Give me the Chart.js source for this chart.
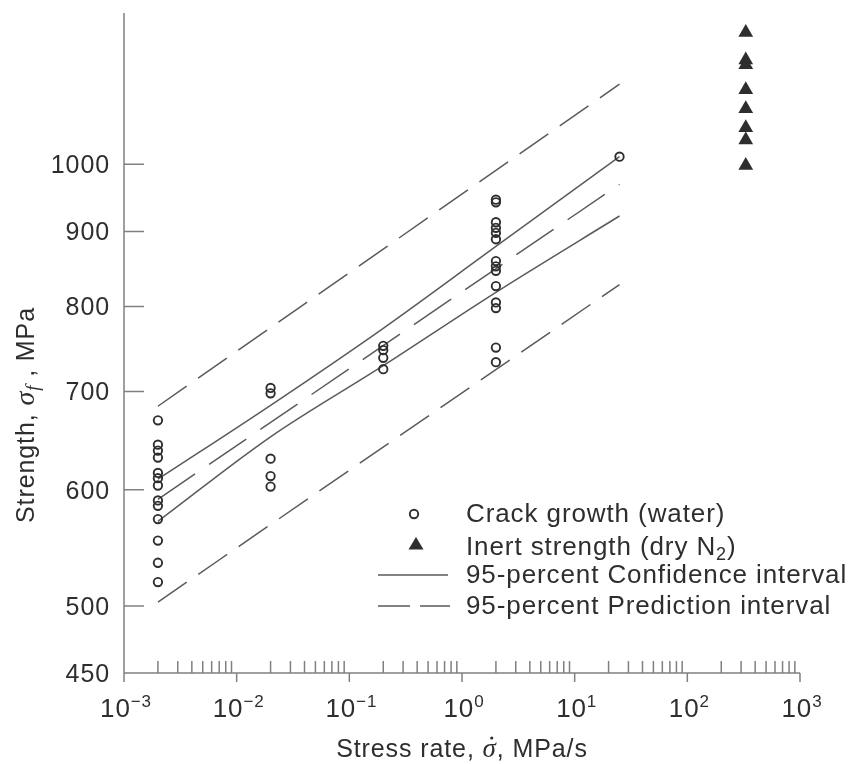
<!DOCTYPE html>
<html lang="en">
<head>
<meta charset="UTF-8">
<title>Strength vs stress rate</title>
<script src="https://cdn.jsdelivr.net/npm/chart.js"></script>
<style>
    html, body {
        margin: 0;
        padding: 0;
        background-color: #ffffff;
    }
    #chart {
        display: block;
    }
</style>
</head>
<body>
<canvas id="chart" width="855" height="764"></canvas>
<script>
    // crack growth specimens tested in water (stress rate MPa/s, strength MPa)
    const waterRate = [
        0.002, 0.002, 0.002, 0.002, 0.002, 0.002, 0.002, 0.002, 0.002, 0.002, 0.002, 0.002, 0.002,
        0.02, 0.02, 0.02, 0.02, 0.02,
        0.2, 0.2, 0.2, 0.2,
        2, 2, 2, 2, 2, 2, 2, 2, 2, 2, 2, 2, 2, 2,
        25
    ];
    const waterStrength = [
        669, 644, 638, 631, 616, 611, 604, 590, 585, 573, 554, 535, 519,
        704, 698, 630, 613, 603,
        752, 747, 738, 725,
        946, 942, 913, 905, 898, 889, 859, 852, 846, 826, 805, 798, 750, 733,
        1012
    ];

    // inert strength in dry nitrogen
    const inertRate = 330;
    const inertStrength = [1230, 1178, 1169, 1124, 1091, 1059, 1039, 998];

    // 95-percent confidence band
    const bandRate = [0.002, 0.02, 0.2, 2, 25];
    const confUpper = [610, 685, 773, 879, 1012];
    const confLower = [571, 652, 729, 818, 922];

    // fit line and 95-percent prediction band
    const fitRate = [0.002, 25];
    const fitLine = [591, 969];
    const predUpper = [684, 1134];
    const predLower = [503, 828];

    // axes
    const yTicks = [450, 500, 600, 700, 800, 900, 1000];
    const xDecades = [-3, -2, -1, 0, 1, 2, 3];

    const SANS = "'Liberation Sans', Arial, sans-serif";
    const SERIF = "'Liberation Serif', 'Times New Roman', serif";
    const INK = '#2e2e2e';
    const AXIS = '#808080';
    const LINE = '#5a5a5a';

    const pairs = (xs, ys) => ys.map((v, i) => ({ x: Array.isArray(xs) ? xs[i] : xs, y: v }));

    function lineSet(label, xs, ys, dash) {
        return {
            label: label,
            data: pairs(xs, ys),
            showLine: true,
            borderColor: LINE,
            borderWidth: 1.5,
            borderDash: dash,
            pointRadius: 0,
            cubicInterpolationMode: 'monotone',
            fill: false
        };
    }

    // draws a run of text pieces, each with its own font and baseline shift
    function drawPieces(ctx, pieces, startX, baseY) {
        let cx = startX;
        const spots = [];
        pieces.forEach(p => {
            ctx.font = p.font;
            ctx.fillText(p.text, cx, baseY + (p.dy || 0));
            const w = ctx.measureText(p.text).width;
            spots.push({ x: cx, w: w });
            cx += w;
        });
        return spots;
    }

    function piecesWidth(ctx, pieces) {
        let w = 0;
        pieces.forEach(p => {
            ctx.font = p.font;
            w += ctx.measureText(p.text).width;
        });
        return w;
    }

    const axesAndLabels = {
        id: 'axesAndLabels',
        afterDraw(chart) {
            const { ctx, chartArea: a, scales: { x, y } } = chart;
            ctx.save();
            ctx.letterSpacing = '0.9px';

            // axis lines
            ctx.strokeStyle = AXIS;
            ctx.lineWidth = 1.5;
            ctx.beginPath();
            ctx.moveTo(a.left, a.top);
            ctx.lineTo(a.left, a.bottom);
            ctx.moveTo(a.left, a.bottom);
            ctx.lineTo(a.right, a.bottom);
            ctx.stroke();

            // y ticks point into the plot
            ctx.beginPath();
            yTicks.forEach(v => {
                if (v === 450) return;
                const py = y.getPixelForValue(v);
                ctx.moveTo(a.left, py);
                ctx.lineTo(a.left + 20, py);
            });
            // x minor ticks go up, decade ticks go down
            xDecades.forEach(n => {
                const px = x.getPixelForValue(Math.pow(10, n));
                ctx.moveTo(px, a.bottom);
                ctx.lineTo(px, a.bottom + 9);
                if (n === 3) return;
                for (let k = 2; k <= 9; k++) {
                    const mx = x.getPixelForValue(k * Math.pow(10, n));
                    ctx.moveTo(mx, a.bottom);
                    ctx.lineTo(mx, a.bottom - 12);
                }
            });
            ctx.stroke();

            ctx.fillStyle = INK;

            // y tick labels
            ctx.font = '25px ' + SANS;
            ctx.textAlign = 'right';
            ctx.textBaseline = 'middle';
            yTicks.forEach(v => {
                ctx.fillText(String(v), a.left - 14, y.getPixelForValue(v) + 2);
            });

            // x tick labels, 10 with a raised exponent
            ctx.textAlign = 'left';
            ctx.textBaseline = 'alphabetic';
            xDecades.forEach(n => {
                const exp = n < 0 ? '\u2212' + Math.abs(n) : String(n);
                const pieces = [
                    { text: '10', font: '26px ' + SANS },
                    { text: exp, font: '17px ' + SANS, dy: -10 }
                ];
                const w = piecesWidth(ctx, pieces);
                drawPieces(ctx, pieces, x.getPixelForValue(Math.pow(10, n)) - w / 2 + 2, a.bottom + 44);
            });

            // x axis title, sigma with a dot over it
            const xTitle = [
                { text: 'Stress rate, ', font: '25px ' + SANS },
                { text: '\u03c3', font: 'italic 27px ' + SERIF },
                { text: ', MPa/s', font: '25px ' + SANS }
            ];
            const xw = piecesWidth(ctx, xTitle);
            const xs = drawPieces(ctx, xTitle, (a.left + a.right) / 2 - xw / 2, 757);
            ctx.beginPath();
            ctx.arc(xs[1].x + xs[1].w / 2 + 2, 738, 1.6, 0, Math.PI * 2);
            ctx.fill();

            // y axis title, rotated
            const yTitle = [
                { text: 'Strength, ', font: '25px ' + SANS },
                { text: '\u03c3', font: 'italic 28px ' + SERIF },
                { text: 'f', font: 'italic 19px ' + SERIF, dy: 5 },
                { text: ' , MPa', font: '25px ' + SANS }
            ];
            ctx.save();
            ctx.translate(34, 415);
            ctx.rotate(-Math.PI / 2);
            const yw = piecesWidth(ctx, yTitle);
            drawPieces(ctx, yTitle, -yw / 2, 0);
            ctx.restore();

            // legend
            const lx = 466, symX = 414, rowY = [514, 545, 575, 606];
            const ds = chart.data.datasets;
            const LF = '26px ' + SANS;
            ctx.textBaseline = 'middle';

            ctx.strokeStyle = INK;
            ctx.lineWidth = 1.9;
            ctx.beginPath();
            ctx.arc(symX, rowY[0], 4.2, 0, Math.PI * 2);
            ctx.stroke();
            ctx.font = LF;
            ctx.fillText(ds[0].label, lx, rowY[0] + 1);

            ctx.beginPath();
            ctx.moveTo(symX + 2, rowY[1] - 8);
            ctx.lineTo(symX + 9.5, rowY[1] + 4.5);
            ctx.lineTo(symX - 5.5, rowY[1] + 4.5);
            ctx.closePath();
            ctx.fill();
            ctx.textBaseline = 'alphabetic';
            drawPieces(ctx, [
                { text: 'Inert strength (dry N', font: LF },
                { text: '2', font: '18px ' + SANS, dy: 5 },
                { text: ')', font: LF }
            ], lx, rowY[1] + 10);
            ctx.textBaseline = 'middle';

            ctx.strokeStyle = LINE;
            ctx.lineWidth = 1.5;
            ctx.beginPath();
            ctx.moveTo(378, rowY[2]);
            ctx.lineTo(448, rowY[2]);
            ctx.stroke();
            ctx.font = LF;
            ctx.fillText('95-percent Confidence interval', lx, rowY[2] + 1);

            ctx.setLineDash([32, 10]);
            ctx.beginPath();
            ctx.moveTo(378, rowY[3]);
            ctx.lineTo(450, rowY[3]);
            ctx.stroke();
            ctx.setLineDash([]);
            ctx.fillText('95-percent Prediction interval', lx, rowY[3] + 1);

            ctx.restore();
        }
    };

    new Chart(document.getElementById('chart').getContext('2d'), {
        type: 'scatter',
        data: {
            datasets: [
                {
                    label: 'Crack growth (water)',
                    data: pairs(waterRate, waterStrength),
                    pointStyle: 'circle',
                    pointRadius: 4.2,
                    borderWidth: 1.9,
                    borderColor: INK,
                    backgroundColor: 'rgba(255,255,255,0)'
                },
                {
                    label: 'Inert strength (dry N2)',
                    data: pairs(inertRate, inertStrength),
                    pointStyle: 'triangle',
                    pointRadius: 8.5,
                    borderWidth: 0,
                    backgroundColor: INK
                },
                lineSet('95-percent Confidence interval', bandRate, confUpper, []),
                lineSet('95-percent Confidence interval (lower)', bandRate, confLower, []),
                lineSet('Fit', fitRate, fitLine, [45, 17]),
                lineSet('95-percent Prediction interval', fitRate, predUpper, [35, 14]),
                lineSet('95-percent Prediction interval (lower)', fitRate, predLower, [35, 14])
            ]
        },
        options: {
            responsive: false,
            animation: false,
            devicePixelRatio: 1,
            layout: {
                padding: { left: 124, right: 55, top: 13, bottom: 91 }
            },
            plugins: {
                legend: { display: false },
                tooltip: { enabled: false }
            },
            scales: {
                x: { type: 'logarithmic', min: 0.001, max: 1000, display: false },
                y: { type: 'logarithmic', min: 450, max: 1268, display: false }
            }
        },
        plugins: [axesAndLabels]
    });
</script>
</body>
</html>
